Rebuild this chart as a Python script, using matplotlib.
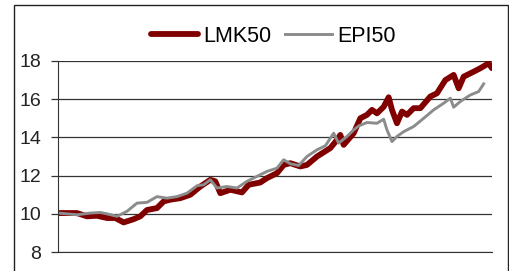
import matplotlib.pyplot as plt
from matplotlib.patches import Rectangle

plt.rcParams['font.family'] = ['Liberation Sans', 'DejaVu Sans']

# trading-day position (approx) and index level
lmk_x = [0, 57, 87, 117, 147, 172, 197, 227, 247, 267, 297, 317, 337, 367, 397,
         427, 457, 472, 487, 517, 552, 572, 607, 627, 657, 677, 697, 727, 747,
         777, 817, 837, 847, 857, 887, 907, 927, 942, 957, 977, 992, 1002, 1017,
         1032, 1047, 1067, 1087, 1117, 1137, 1162, 1187, 1202, 1217, 1247, 1267,
         1292, 1302]
lmk50 = [10.04, 10.04, 9.87, 9.9, 9.78, 9.78, 9.55, 9.72, 9.87, 10.2, 10.3,
         10.65, 10.74, 10.82, 11.0, 11.43, 11.78, 11.7, 11.08, 11.26, 11.12,
         11.52, 11.64, 11.87, 12.13, 12.56, 12.65, 12.48, 12.56, 13.0, 13.44,
         13.87, 14.13, 13.61, 14.22, 15.0, 15.18, 15.44, 15.26, 15.6, 16.1,
         15.44, 14.74, 15.35, 15.18, 15.53, 15.53, 16.14, 16.31, 17.0, 17.27,
         16.57, 17.18, 17.44, 17.62, 17.88, 17.62]

epi_x = [0, 57, 97, 127, 147, 177, 207, 237, 267, 297, 327, 357, 387, 417, 437,
         457, 477, 507, 537, 567, 597, 627, 657, 677, 697, 722, 747, 777, 802,
         827, 842, 867, 887, 902, 927, 957, 977, 987, 1002, 1017, 1037, 1067,
         1097, 1127, 1157, 1177, 1187, 1207, 1237, 1262, 1277]
epi50 = [10.04, 9.95, 10.04, 10.07, 10.0, 9.87, 10.13, 10.56, 10.6, 10.9,
         10.82, 10.9, 11.08, 11.47, 11.52, 11.78, 11.35, 11.43, 11.35, 11.7,
         11.96, 12.22, 12.39, 12.83, 12.62, 12.53, 13.0, 13.35, 13.56, 14.22,
         13.7, 14.05, 14.39, 14.6, 14.78, 14.74, 14.95, 14.39, 13.78, 14.05,
         14.3, 14.57, 15.0, 15.44, 15.79, 16.05, 15.58, 15.88, 16.22, 16.4, 16.8]

yticks = [8, 10, 12, 14, 16, 18]

fig = plt.figure(figsize=(5.1, 2.71), dpi=100)
ax = fig.add_axes([0.1137, 0.070, 0.851, 0.705])

ax.plot(lmk_x, lmk50, color='#800000', lw=4.2, label='LMK50',
        solid_capstyle='round', solid_joinstyle='round')
ax.plot(epi_x, epi50, color='#8c8c8c', lw=2.1, label='EPI50')

ax.set_xlim(0, 1302)
ax.set_ylim(8, 18)
ax.set_yticks(yticks)
ax.set_xticks([])
for y in yticks:
    ax.axhline(y, color='#333333', lw=0.9, zorder=0)

for s in ['top', 'right']:
    ax.spines[s].set_visible(False)
ax.spines['left'].set_color('#333333')
ax.spines['bottom'].set_color('#333333')
ax.tick_params(axis='y', length=5, width=0.9, color='#333333', labelsize=14, pad=7,
               labelcolor='#222222')

fig.legend(loc='center', bbox_to_anchor=(0.536, 0.867), ncol=2, frameon=False,
           fontsize=15.5, handlelength=2.2, columnspacing=0.6, handletextpad=0.25)

# outer chart border (bottom edge runs off the image)
fig.patches.append(Rectangle((14 / 510, -0.2), 494 / 510, 1.2 - 5 / 271,
                             transform=fig.transFigure, fill=False,
                             edgecolor='#222222', lw=1.0))

fig.savefig('out.png', dpi=100)
